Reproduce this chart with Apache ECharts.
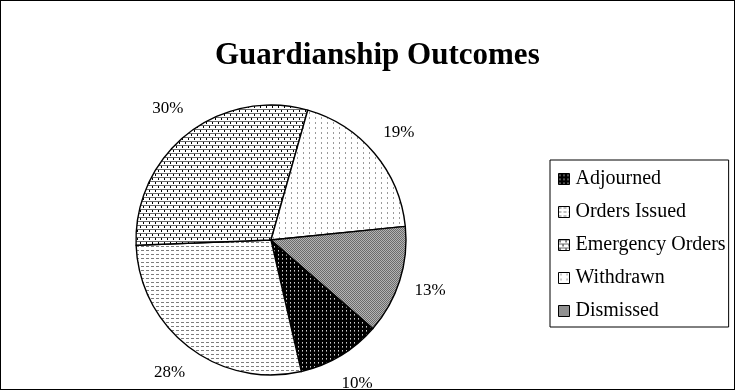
<!DOCTYPE html>
<html>
<head>
<meta charset="utf-8">
<script src="https://cdn.jsdelivr.net/npm/echarts@6/dist/echarts.min.js"></script>
<style>
  html, body { margin: 0; padding: 0; background: #fff; }
  #chart { width: 735px; height: 390px; box-sizing: border-box; border: 1px solid #000; }
</style>
</head>
<body>
<div id="chart"></div>
<script>
// Outcome categories, listed clockwise from the lower-right slice
const categories = ['Adjourned', 'Orders Issued', 'Emergency Orders', 'Withdrawn', 'Dismissed'];
// Share of cases for each outcome (percent)
const shares = [10, 28, 30, 19, 13];

const SERIF = '"Liberation Serif", "Times New Roman", serif';

// Small repeating fills in the style of monochrome print patterns
function tile(w, h, paint) {
  const c = document.createElement('canvas');
  c.width = w; c.height = h;
  const g = c.getContext('2d');
  paint(g);
  return { image: c, repeat: 'repeat' };
}
const px = (g, color, x, y, w, h) => { g.fillStyle = color; g.fillRect(x, y, w || 1, h || 1); };

const fills = {
  'Adjourned': tile(4, 4, g => {
    px(g, '#000', 0, 0, 4, 4);
    px(g, '#d0d0d0', 1, 1);
    px(g, '#7a7a7a', 1, 2);
  }),
  'Orders Issued': tile(5, 4, g => {
    px(g, '#fff', 0, 0, 5, 4);
    px(g, '#7d7d7d', 0, 1, 3, 1);
  }),
  'Emergency Orders': tile(6, 8, g => {
    px(g, '#fff', 0, 0, 6, 8);
    px(g, '#6a6a6a', 0, 0, 6, 1);
    px(g, '#000', 1, 1, 1, 2);
    px(g, '#6a6a6a', 0, 4, 6, 1);
    px(g, '#000', 4, 5, 1, 2);
  }),
  'Withdrawn': tile(6, 5, g => {
    px(g, '#fff', 0, 0, 6, 5);
    px(g, '#9a9a9a', 2, 1, 1, 2);
  }),
  'Dismissed': tile(2, 2, g => {
    px(g, '#6c6c6c', 0, 0, 2, 2);
    px(g, '#b4b4b4', 1, 0);
    px(g, '#b4b4b4', 0, 1);
  })
};

const sliceData = categories.map((name, i) => ({
  name: name,
  value: shares[i],
  itemStyle: { color: fills[name] }
}));
const labelData = categories.map((name, i) => ({ name: name, value: shares[i] }));

const chart = echarts.init(document.getElementById('chart'), null, { renderer: 'canvas' });
chart.setOption({
  animation: false,
  backgroundColor: '#fff',
  title: {
    text: 'Guardianship Outcomes',
    left: 214,
    top: 39,
    padding: 0,
    textStyle: { fontFamily: SERIF, fontSize: 31, fontWeight: 'bold', color: '#000' }
  },
  legend: {
    orient: 'vertical',
    left: 549,
    top: 159,
    data: categories,
    icon: 'rect',
    itemWidth: 11,
    itemHeight: 11,
    itemGap: 13,
    padding: [9, 3, 6, 8],
    borderColor: '#000',
    borderWidth: 1,
    selectedMode: false,
    itemStyle: { borderColor: '#000', borderWidth: 1 },
    textStyle: { fontFamily: SERIF, fontSize: 20, lineHeight: 20, color: '#000', padding: [0, 0, 0, 1] }
  },
  series: [
    {
      // the pie itself
      type: 'pie',
      center: [270, 239],
      radius: 135,
      startAngle: -41,
      clockwise: true,
      avoidLabelOverlap: false,
      label: { show: false },
      labelLine: { show: false },
      emphasis: { disabled: true },
      itemStyle: { borderColor: '#000', borderWidth: 1.4 },
      data: sliceData
    },
    {
      // invisible outer ring that carries the percentage labels just outside the pie
      type: 'pie',
      center: [270, 239],
      radius: [135, 193],
      startAngle: -41,
      clockwise: true,
      silent: true,
      avoidLabelOverlap: false,
      itemStyle: { color: 'rgba(0,0,0,0)', borderWidth: 0 },
      emphasis: { disabled: true },
      labelLine: { show: false },
      label: {
        show: true,
        position: 'inside',
        formatter: '{d}%',
        fontFamily: SERIF,
        fontSize: 17,
        color: '#000'
      },
      data: labelData
    }
  ]
});
</script>
</body>
</html>
